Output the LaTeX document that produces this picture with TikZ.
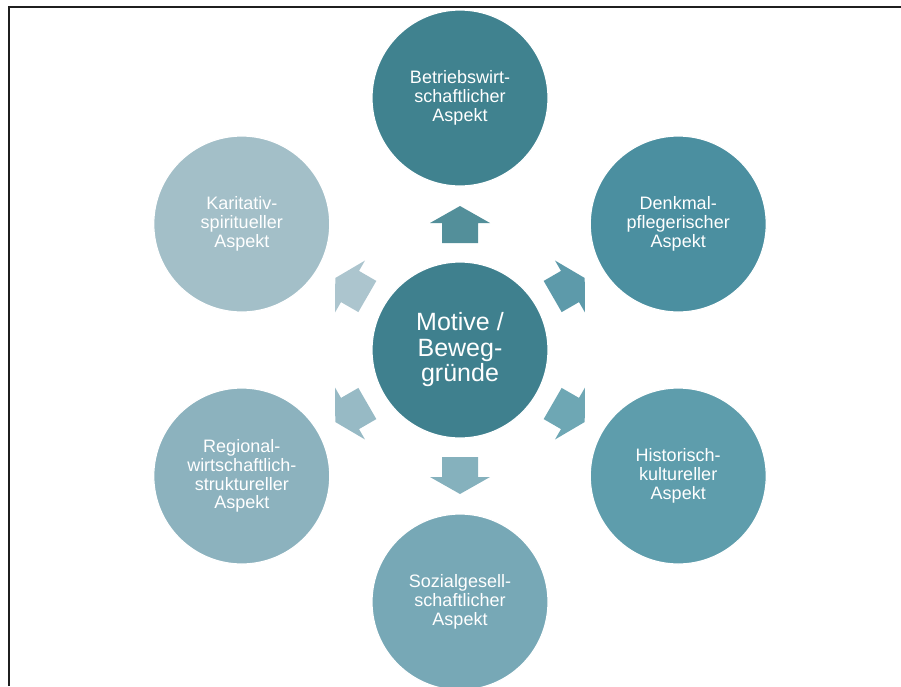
\documentclass[tikz,border=0pt]{standalone}
\usepackage{fontspec}
\setmainfont{Liberation Sans}
\usetikzlibrary{calc}
\definecolor{motcol}{HTML}{3F808E}
\definecolor{bwcol}{HTML}{40828F}
\definecolor{dmcol}{HTML}{4B8FA0}
\definecolor{hkcol}{HTML}{5E9DAC}
\definecolor{sgcol}{HTML}{77A8B6}
\definecolor{rwcol}{HTML}{8CB2BE}
\definecolor{kscol}{HTML}{A3BFC8}

\begin{document}
\begin{tikzpicture}[x=1pt,y=1pt,
	aspekt/.style={circle,draw=white,line width=1.2pt,minimum size=176pt,inner sep=0pt,
		text=white,align=center,font=\fontsize{18}{18.8}\selectfont},
	motiv/.style={aspekt,font=\fontsize{25}{25.5}\selectfont}]
	\useasboundingbox (0,0) rectangle (901,-686);
	\draw[line width=2pt,black!88] (9,-686) -- (9,-7) -- (901,-7);
	\node[motiv,fill=motcol] (mot) at (460,-350) {Motive /\\Beweg-\\gründe};
	\foreach \ang/\name/\col/\txt in {
		90/bw/bwcol/{Betriebswirt-\\schaftlicher\\Aspekt},
		30/dm/dmcol/{Denkmal-\\pflegerischer\\Aspekt},
		-30/hk/hkcol/{Historisch-\\kultureller\\Aspekt},
		-90/sg/sgcol/{Sozialgesell-\\schaftlicher\\Aspekt},
		-150/rw/rwcol/{Regional-\\wirtschaftlich-\\struktureller\\Aspekt},
		150/ks/kscol/{Karitativ-\\spiritueller\\Aspekt}}
	{
		\node[aspekt,fill=\col] (\name) at ($(mot)+(\ang:252)$) {\txt};
		\begin{scope}[shift={(mot)},rotate=\ang]
			\fill[\col!90!white] (107,-18) -- (127,-18) -- (127,-30) -- (144,0)
				-- (127,30) -- (127,18) -- (107,18) -- cycle;
		\end{scope}
	}
\end{tikzpicture}
\end{document}
